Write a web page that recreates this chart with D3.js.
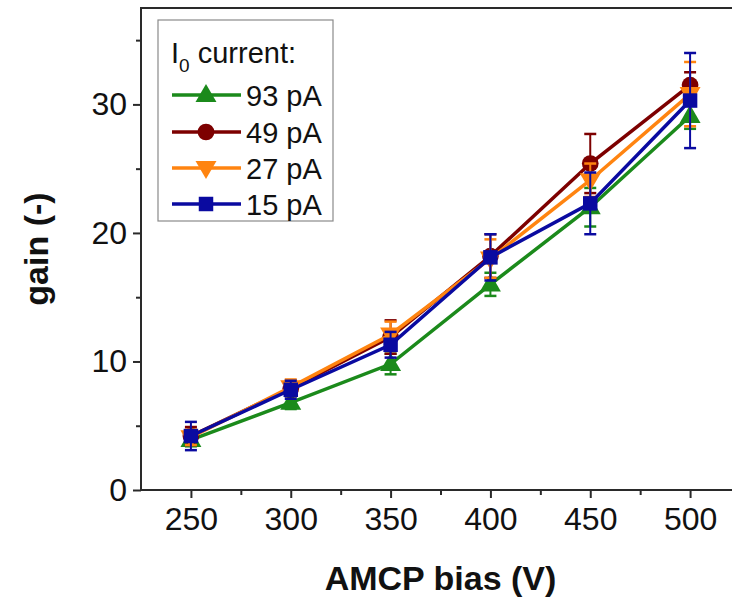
<!DOCTYPE html>
<html><head><meta charset="utf-8">
<script src="https://cdn.jsdelivr.net/npm/d3@7"></script>
<style>
html,body{margin:0;padding:0;background:#fff;}
svg{display:block;font-family:"Liberation Sans",Arial,sans-serif;}
</style></head>
<body><svg id="c" width="732" height="597"></svg>
<script>
const biasV = [250, 300, 350, 400, 450, 500];
const seriesNames = ["93 pA", "49 pA", "27 pA", "15 pA"];
const gain93 = [3.9, 6.8, 9.8, 16.0, 22.0, 29.1];
const err93  = [0.5, 0.5, 0.8, 0.9, 1.5, 1.0];
const gain49 = [4.2, 7.9, 11.9, 18.2, 25.4, 31.5];
const err49  = [0.7, 0.6, 1.3, 1.7, 2.3, 1.0];
const gain27 = [4.1, 8.0, 12.1, 18.0, 24.1, 30.8];
const err27  = [0.6, 0.6, 1.0, 1.5, 1.3, 2.5];
const gain15 = [4.2, 7.8, 11.3, 18.1, 22.3, 30.3];
const err15  = [1.1, 0.7, 1.0, 1.8, 2.4, 3.7];
const xTicks = [250, 300, 350, 400, 450, 500];
const yTicks = [0, 10, 20, 30];

const colors = ["#1b8a1b", "#7d0000", "#ff8410", "#0a0aa0"];
const symbols = ["up", "circle", "down", "square"];
const series = [
  {name: seriesNames[0], vals: gain93, errs: err93},
  {name: seriesNames[1], vals: gain49, errs: err49},
  {name: seriesNames[2], vals: gain27, errs: err27},
  {name: seriesNames[3], vals: gain15, errs: err15}
];

const svg = d3.select("#c");
const L = 141, R = 740, T = 8, B = 490;
const x = d3.scaleLinear().domain([225, 525]).range([L, R]);
const y = d3.scaleLinear().domain([0, 37.5]).range([B, T]);

// frame
svg.append("rect").attr("x", L).attr("y", T).attr("width", R - L).attr("height", B - T)
  .attr("fill", "none").attr("stroke", "#2a2a2a").attr("stroke-width", 2);

// axes
const xAx = svg.append("g").attr("transform", `translate(0,${B})`)
  .call(d3.axisBottom(x).tickValues(xTicks).tickSize(8).tickPadding(9).tickFormat(d3.format("d")));
const xMinor = svg.append("g").attr("transform", `translate(0,${B})`)
  .call(d3.axisBottom(x).tickValues([275, 325, 375, 425, 475]).tickSize(5).tickFormat(""));
const yAx = svg.append("g").attr("transform", `translate(${L},0)`)
  .call(d3.axisLeft(y).tickValues(yTicks).tickSize(8).tickPadding(6).tickFormat(d3.format("d")));
const yMinor = svg.append("g").attr("transform", `translate(${L},0)`)
  .call(d3.axisLeft(y).tickValues([5, 15, 25, 35]).tickSize(5).tickFormat(""));
[xAx, xMinor, yAx, yMinor].forEach(g => {
  g.select(".domain").remove();
  g.selectAll(".tick line").attr("stroke", "#2a2a2a").attr("stroke-width", 2);
  g.selectAll(".tick text").attr("font-size", 32).attr("fill", "#111")
    .attr("font-family", "'Liberation Sans',Arial,sans-serif");
});

// axis titles
svg.append("text").attr("x", (L + R) / 2).attr("y", 590).attr("text-anchor", "middle")
  .attr("font-size", 34).attr("font-weight", "bold").attr("fill", "#111").text("AMCP bias (V)");
svg.append("text").attr("transform", `translate(48,${(T + B) / 2}) rotate(-90)`)
  .attr("text-anchor", "middle").attr("font-size", 34).attr("font-weight", "bold")
  .attr("fill", "#111").text("gain (-)");

function symPath(kind) {
  if (kind === "up") return d3.symbol().type(d3.symbolTriangle).size(190)();
  if (kind === "down") return d3.symbol().type(d3.symbolTriangle).size(190)();
  if (kind === "circle") return d3.symbol().type(d3.symbolCircle).size(220)();
  return d3.symbol().type(d3.symbolSquare).size(210)();
}
function symTransform(kind, px, py) {
  if (kind === "up") return `translate(${px},${py + 1})`;
  if (kind === "down") return `translate(${px},${py - 1}) rotate(180)`;
  return `translate(${px},${py})`;
}

const line = d3.line().x(d => x(d[0])).y(d => y(d[1]));
series.forEach((s, i) => {
  const g = svg.append("g");
  const pts = biasV.map((v, j) => [v, s.vals[j], s.errs[j]]);
  g.append("path").datum(pts).attr("d", line).attr("fill", "none")
    .attr("stroke", colors[i]).attr("stroke-width", 3.5);
  pts.forEach(p => {
    const px = x(p[0]);
    g.append("line").attr("x1", px).attr("x2", px).attr("y1", y(p[1] - p[2])).attr("y2", y(p[1] + p[2]))
      .attr("stroke", colors[i]).attr("stroke-width", 2);
    [p[1] - p[2], p[1] + p[2]].forEach(v => {
      g.append("line").attr("x1", px - 6).attr("x2", px + 6).attr("y1", y(v)).attr("y2", y(v))
        .attr("stroke", colors[i]).attr("stroke-width", 2.5);
    });
  });
  pts.forEach(p => {
    g.append("path").attr("d", symPath(symbols[i]))
      .attr("transform", symTransform(symbols[i], x(p[0]), y(p[1])))
      .attr("fill", colors[i]);
  });
});

// legend
const lg = svg.append("g");
lg.append("rect").attr("x", 158).attr("y", 20).attr("width", 175).attr("height", 201)
  .attr("fill", "#fff").attr("stroke", "#8a8a8a").attr("stroke-width", 1.2);
const tt = lg.append("text").attr("x", 171).attr("y", 63).attr("font-size", 29).attr("fill", "#111");
tt.append("tspan").text("I");
tt.append("tspan").attr("font-size", 19).attr("dy", 9).text("0");
tt.append("tspan").attr("dy", -9).text(" current:");
const rowY = [95, 132, 168, 204];
series.forEach((s, i) => {
  const yy = rowY[i];
  lg.append("line").attr("x1", 172).attr("x2", 241).attr("y1", yy).attr("y2", yy)
    .attr("stroke", colors[i]).attr("stroke-width", 3.5);
  lg.append("path").attr("d", symPath(symbols[i]))
    .attr("transform", symTransform(symbols[i], 206, yy)).attr("fill", colors[i]);
  lg.append("text").attr("x", 246).attr("y", yy + 11).attr("font-size", 29).attr("fill", "#111").text(s.name);
});
</script></body></html>
